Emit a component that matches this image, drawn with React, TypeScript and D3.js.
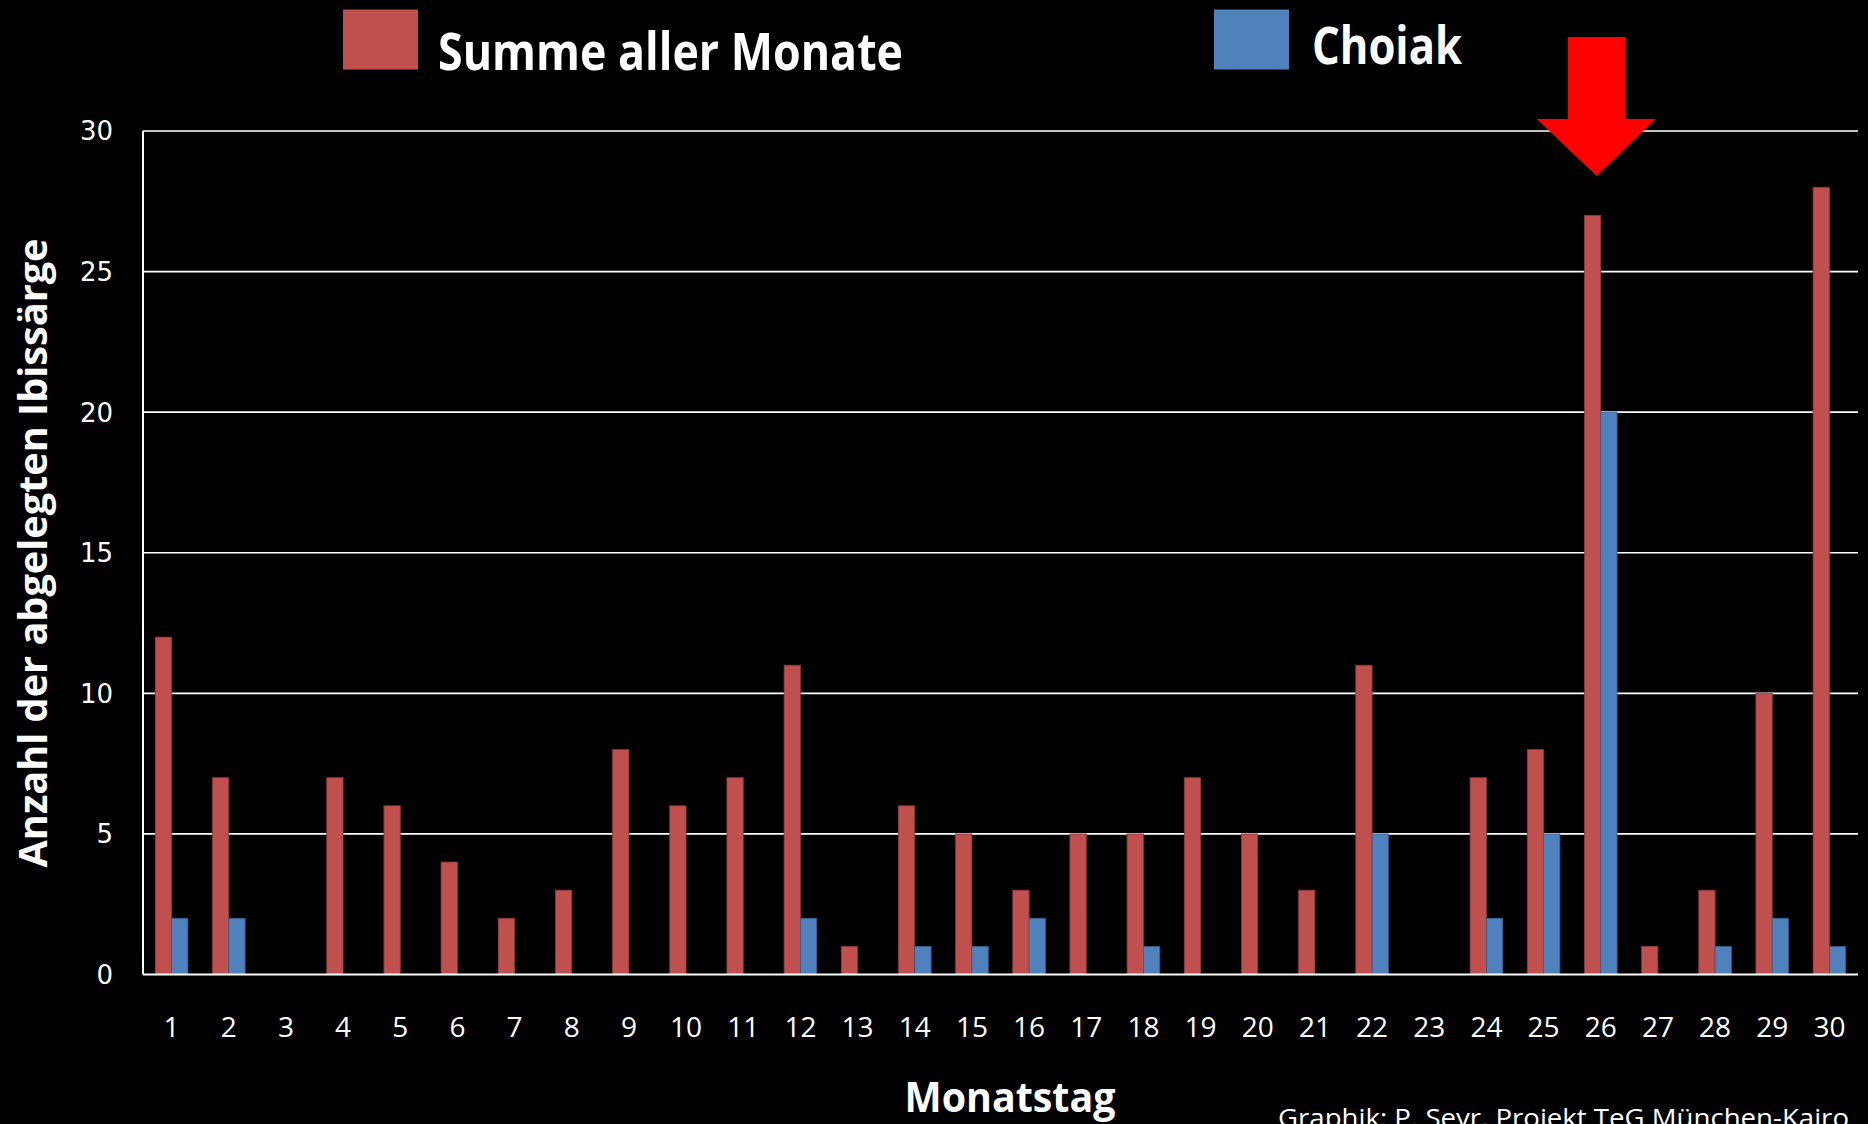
import React from 'react';
import * as d3 from 'd3';

// Monatstag 1..30
const days = d3.range(1, 31).map(String);
// Summe aller Monate
const sumValues = [12, 7, 0, 7, 6, 4, 2, 3, 8, 6, 7, 11, 1, 6, 5, 3, 5, 5, 7, 5, 3, 11, 0, 7, 8, 27, 1, 3, 10, 28];
// Choiak
const choiakValues = [2, 2, 0, 0, 0, 0, 0, 0, 0, 0, 0, 2, 0, 1, 1, 2, 0, 1, 0, 0, 0, 5, 0, 2, 5, 20, 0, 1, 2, 1];
const yTicks = [0, 5, 10, 15, 20, 25, 30];
const seriesKeys = ['sum', 'choiak'];
const seriesLabels = ['Summe aller Monate', 'Choiak'];
const highlightDay = '26';

const W = 1868;
const H = 1124;
const colors = { sum: '#C0504D', choiak: '#4F81BD' };
const strokes = { sum: '#8C3836', choiak: '#385D8A' };

export default function App() {
  const left = 143, right = 1858, top = 131, bottom = 974.5;

  const x = d3.scaleBand<string>().domain(days).range([left, right]).padding(0);
  const x1 = d3.scaleBand<string>().domain(seriesKeys).range([0, x.bandwidth()])
    .paddingInner(0).paddingOuter(0.75);
  const y = d3.scaleLinear().domain([0, 30]).range([bottom, top]);

  const rows = days.map((d, i) => ({ day: d, sum: sumValues[i], choiak: choiakValues[i] }));

  const ax = (x(highlightDay) as number) + x.bandwidth() / 2 - 4;
  const arrow = [
    [ax - 29, 37], [ax + 29, 37], [ax + 29, 119], [ax + 59, 119],
    [ax, 176], [ax - 60, 119], [ax - 29, 119],
  ];

  return (
    <svg width={W} height={H} style={{ position: 'absolute', left: 0, top: 0, background: '#000' }}>
      <rect x={0} y={0} width={W} height={H} fill="#000" />

      {/* legend */}
      <rect x={343} y={9.5} width={75} height={60} fill={colors.sum} />
      <text x={438} y={70} fill="#fff" fontFamily="Open Sans" fontWeight="bold" fontSize={52}
        textLength={465} lengthAdjust="spacingAndGlyphs">{seriesLabels[0]}</text>
      <rect x={1214} y={9.5} width={75} height={60} fill={colors.choiak} />
      <text x={1312} y={64} fill="#fff" fontFamily="Open Sans" fontWeight="bold" fontSize={52}
        textLength={150} lengthAdjust="spacingAndGlyphs">{seriesLabels[1]}</text>

      {/* grid */}
      {yTicks.map(t => (
        <g key={t}>
          {t > 0 && <line x1={left} x2={right} y1={y(t)} y2={y(t)} stroke="#fff" strokeWidth={1.6} />}
          <text x={113} y={y(t)} dy="0.36em" textAnchor="end" fill="#fff" fontFamily="DejaVu Sans" fontSize={26}>{t}</text>
        </g>
      ))}

      {/* bars */}
      {rows.map(r => (
        <g key={r.day} transform={`translate(${x(r.day)},0)`}>
          {seriesKeys.map(k => {
            const v = (r as any)[k] as number;
            if (!v) return null;
            return (
              <rect key={k} x={x1(k)} y={y(v)} width={x1.bandwidth()} height={y(0) - y(v)}
                fill={(colors as any)[k]} stroke={(strokes as any)[k]} strokeWidth={0.8} />
            );
          })}
          <text x={x.bandwidth() / 2} y={1037} textAnchor="middle" fill="#fff" fontFamily="Open Sans" fontSize={28}>{r.day}</text>
        </g>
      ))}

      {/* axes */}
      <line x1={left} x2={right} y1={bottom} y2={bottom} stroke="#fff" strokeWidth={2} />
      <line x1={left} x2={left} y1={top} y2={bottom} stroke="#fff" strokeWidth={2} />

      {/* arrow */}
      <polygon points={arrow.map(p => p.join(',')).join(' ')} fill="#FF0000" />

      {/* axis titles */}
      <text transform="translate(47,553) rotate(-90)" textAnchor="middle" fill="#fff" fontFamily="Open Sans"
        fontWeight="bold" fontSize={40} textLength={629} lengthAdjust="spacingAndGlyphs">Anzahl der abgelegten Ibissärge</text>
      <text x={1010} y={1112} textAnchor="middle" fill="#fff" fontFamily="Open Sans" fontWeight="bold" fontSize={42}
        textLength={211} lengthAdjust="spacingAndGlyphs">Monatstag</text>
      <text x={1278} y={1127} fill="#fff" fontFamily="Open Sans" fontSize={25}
        textLength={571} lengthAdjust="spacingAndGlyphs">Graphik: P. Seyr, Projekt TeG München-Kairo</text>
    </svg>
  );
}
